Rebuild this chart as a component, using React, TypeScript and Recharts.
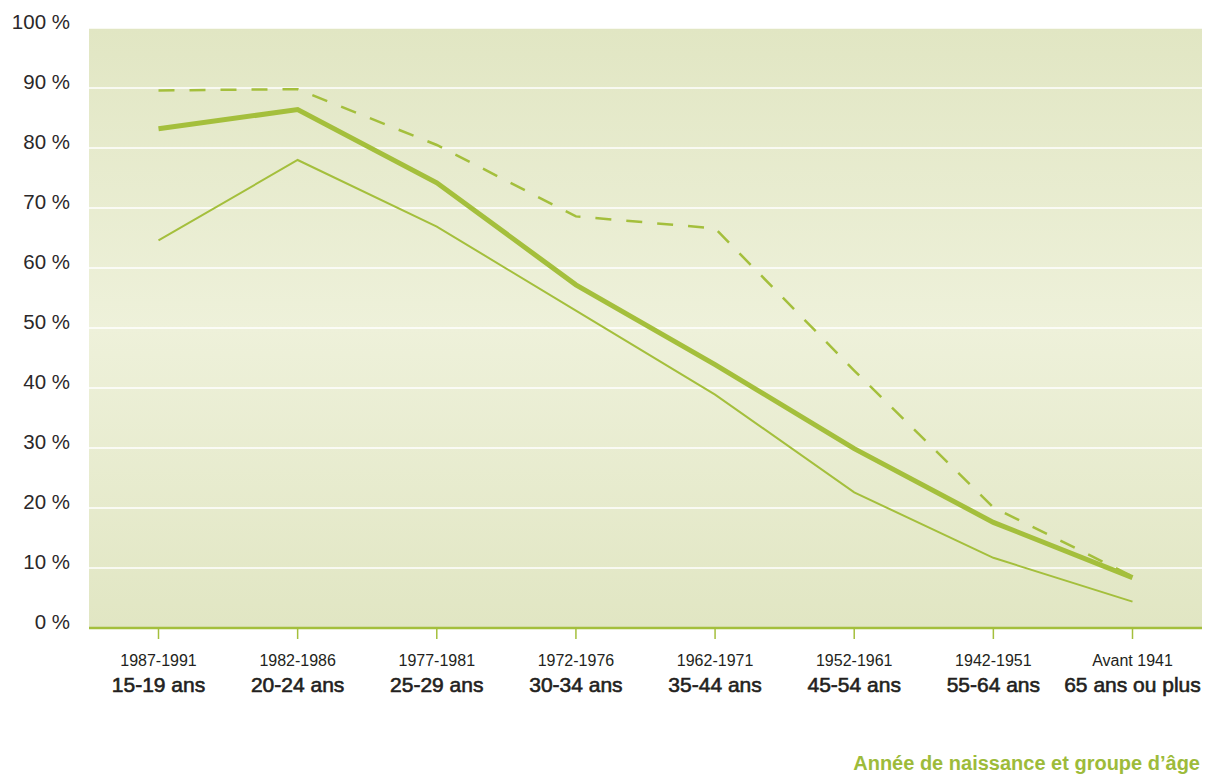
import { LineChart, Line, XAxis, YAxis, CartesianGrid } from "recharts";

const birthYears = ["1987-1991", "1982-1986", "1977-1981", "1972-1976", "1962-1971", "1952-1961", "1942-1951", "Avant 1941"];
const ageGroups = ["15-19 ans", "20-24 ans", "25-29 ans", "30-34 ans", "35-44 ans", "45-54 ans", "55-64 ans", "65 ans ou plus"];

// three series (in %)
const dashedValues = [89.6, 89.8, 80.5, 68.6, 66.6, 42.9, 20.1, 8.6];
const thickValues = [83.2, 86.4, 74.2, 57.2, 43.9, 29.9, 17.6, 8.4];
const thinValues = [64.6, 78.0, 66.9, 52.9, 38.9, 22.6, 11.7, 4.4];

const yTicks = [0, 10, 20, 30, 40, 50, 60, 70, 80, 90, 100];

const xTitle = "Année de naissance et groupe d’âge";

const FONT = "'Liberation Sans', Arial, sans-serif";
const GREEN = "#a4bf3c";
const TEXT = "#231f20";

const data = birthYears.map((year, i) => ({
  year,
  age: ageGroups[i],
  dashed: dashedValues[i],
  thick: thickValues[i],
  thin: thinValues[i],
}));

function YTick(props: any) {
  const { y, payload } = props;
  return (
    <text x={70} y={y + 1} textAnchor="end" fontSize={20.5} fill="#2b2829" fontFamily={FONT}>
      {`${payload.value} %`}
    </text>
  );
}

function XTick(props: any) {
  const { x, y, payload, index } = props;
  return (
    <g>
      <text x={x} y={y + 27} textAnchor="middle" fontSize={16} fill={TEXT} fontFamily={FONT}>
        {payload.value}
      </text>
      {/* medium weight: regular glyphs with a thin outline */}
      <text
        x={x}
        y={y + 53}
        textAnchor="middle"
        fontSize={21}
        fill={TEXT}
        stroke={TEXT}
        strokeWidth={0.6}
        fontFamily={FONT}
      >
        {ageGroups[index]}
      </text>
    </g>
  );
}

export default function App() {
  return (
    <div style={{ position: "absolute", left: 0, top: 0, width: 1209, height: 777, background: "#fff" }}>
      <LineChart width={1209} height={777} data={data} margin={{ top: 28, right: 7, left: 0, bottom: 0 }}>
        <defs>
          <linearGradient id="bg" x1="0" y1="0" x2="0" y2="1">
            <stop offset="0%" stopColor="#e1e6c3" />
            <stop offset="50%" stopColor="#eef1da" />
            <stop offset="100%" stopColor="#e1e6c3" />
          </linearGradient>
        </defs>
        <CartesianGrid vertical={false} stroke="#ffffff" strokeWidth={1.5} fill="url(#bg)" fillOpacity={1} />
        <XAxis
          dataKey="year"
          interval={0}
          height={149}
          padding={{ left: 69.5, right: 69.5 }}
          axisLine={{ stroke: GREEN, strokeWidth: 2.5 }}
          tickLine={{ stroke: GREEN, strokeWidth: 1.5 }}
          tickSize={11}
          tickMargin={0}
          tick={<XTick />}
        />
        <YAxis
          domain={[0, 100]}
          ticks={yTicks}
          width={89}
          axisLine={false}
          tickLine={false}
          tick={<YTick />}
        />
        <Line dataKey="dashed" stroke={GREEN} strokeWidth={2.5} strokeDasharray="16 15" dot={false} isAnimationActive={false} />
        <Line dataKey="thin" stroke={GREEN} strokeWidth={2} dot={false} isAnimationActive={false} />
        <Line dataKey="thick" stroke={GREEN} strokeWidth={5} dot={false} isAnimationActive={false} />
      </LineChart>
      <div
        style={{
          position: "absolute",
          right: 9,
          top: 752,
          fontFamily: FONT,
          fontSize: 20,
          fontWeight: "bold",
          color: "#9dbb3a",
          whiteSpace: "nowrap",
          lineHeight: "22px",
        }}
      >
        {xTitle}
      </div>
    </div>
  );
}
